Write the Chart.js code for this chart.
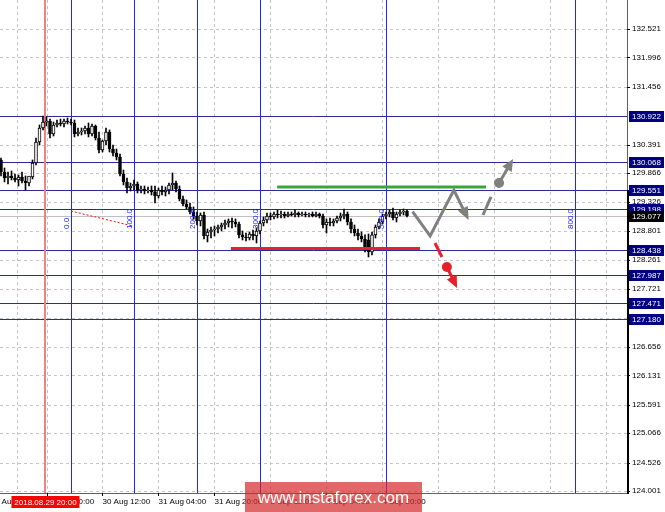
<!DOCTYPE html>
<html>
<head>
<meta charset="utf-8">
<script src="https://cdn.jsdelivr.net/npm/chart.js@4.4.1/dist/chart.umd.min.js"></script>
<style>
  html, body { margin: 0; padding: 0; background: #fff; }
  canvas { display: block; }
</style>
</head>
<body>
<canvas id="chart" width="665" height="512"></canvas>
<script>
// USDJPY H1 candles (bar 13 = 2018.08.29 20:00)
const openP = [130.106,129.884,129.774,129.811,129.774,129.737,129.792,129.718,129.681,129.792,
  130.050,130.438,130.696,130.806,130.825,130.585,130.751,130.788,130.769,130.825,
  130.806,130.788,130.585,130.622,130.640,130.696,130.585,130.733,130.511,130.290,
  130.456,130.622,130.308,130.235,130.161,129.847,129.700,129.589,129.626,129.663,
  129.552,129.571,129.534,129.552,129.516,129.442,129.552,129.516,129.552,129.645,
  129.681,129.571,129.386,129.294,129.239,129.147,129.073,128.981,129.091,128.704,
  128.778,128.815,128.833,128.870,128.907,128.944,128.981,128.962,128.925,128.723,
  128.686,128.667,128.741,128.704,128.796,128.944,128.999,129.073,129.055,129.110,
  129.091,129.110,129.073,129.110,129.091,129.128,129.091,129.110,129.091,129.110,
  129.073,129.110,129.073,128.907,128.962,128.944,128.981,129.036,129.073,129.110,
  128.962,128.833,128.759,128.704,128.649,128.630,128.409,128.723,128.870,128.962,
  129.073,129.110,129.147,129.036,129.110,129.147,129.165];
const highP = [130.142,129.958,129.884,129.903,129.847,129.829,129.884,129.811,129.774,130.106,
  130.511,130.751,130.917,130.899,130.862,130.806,130.843,130.862,130.862,130.880,
  130.862,130.843,130.696,130.696,130.733,130.788,130.769,130.751,130.622,130.474,
  130.696,130.659,130.382,130.308,130.216,129.921,129.774,129.681,129.737,129.700,
  129.626,129.626,129.608,129.626,129.626,129.589,129.626,129.608,129.681,129.866,
  129.718,129.626,129.442,129.368,129.313,129.239,129.147,129.128,129.147,128.833,
  128.870,128.889,128.907,128.944,128.999,129.018,129.036,129.018,128.962,128.796,
  128.759,128.778,128.815,128.852,128.981,129.055,129.128,129.128,129.147,129.184,
  129.165,129.147,129.147,129.147,129.184,129.147,129.147,129.147,129.128,129.147,
  129.147,129.128,129.110,129.018,129.036,129.018,129.073,129.128,129.202,129.147,
  129.018,128.907,128.833,128.778,128.723,128.741,128.778,128.907,129.018,129.110,
  129.147,129.184,129.220,129.147,129.184,129.202,129.184];
const lowP = [129.811,129.700,129.663,129.737,129.700,129.626,129.681,129.552,129.626,129.755,
  130.013,130.382,130.659,130.733,130.511,130.548,130.714,130.733,130.714,130.769,
  130.751,130.530,130.548,130.567,130.585,130.530,130.548,130.474,130.235,130.253,
  130.382,130.253,130.179,130.106,129.811,129.645,129.497,129.534,129.552,129.497,
  129.497,129.479,129.497,129.460,129.313,129.405,129.460,129.442,129.479,129.552,
  129.516,129.350,129.257,129.202,129.110,129.018,128.907,128.889,128.649,128.594,
  128.667,128.704,128.759,128.796,128.833,128.870,128.852,128.870,128.667,128.630,
  128.612,128.630,128.630,128.575,128.741,128.889,128.944,128.999,129.018,129.036,
  129.036,129.036,129.055,129.073,129.055,129.055,129.073,129.055,129.055,129.055,
  129.055,129.036,128.852,128.759,128.889,128.889,128.944,128.981,129.018,128.907,
  128.759,128.704,128.630,128.594,128.409,128.317,128.354,128.667,128.833,128.925,
  129.018,129.055,128.999,128.962,129.073,129.091,129.055];
const closeP = [129.884,129.774,129.811,129.774,129.737,129.792,129.718,129.681,129.811,130.050,
  130.438,130.696,130.806,130.825,130.585,130.751,130.788,130.769,130.825,130.806,
  130.788,130.585,130.622,130.640,130.696,130.585,130.733,130.511,130.290,130.456,
  130.622,130.308,130.235,130.161,129.847,129.700,129.589,129.626,129.663,129.552,
  129.571,129.534,129.552,129.516,129.442,129.552,129.516,129.552,129.645,129.681,
  129.571,129.386,129.294,129.239,129.147,129.073,128.981,129.091,128.704,128.778,
  128.815,128.833,128.870,128.907,128.944,128.981,128.962,128.925,128.723,128.686,
  128.667,128.741,128.704,128.796,128.944,128.999,129.073,129.055,129.110,129.091,
  129.110,129.073,129.110,129.091,129.128,129.091,129.110,129.091,129.110,129.073,
  129.110,129.073,128.907,128.962,128.944,128.981,129.036,129.073,129.110,128.962,
  128.833,128.759,128.704,128.649,128.446,128.409,128.723,128.870,128.962,129.073,
  129.110,129.147,129.036,129.110,129.147,129.165,129.077];

const priceTicks = [132.521,131.996,131.456,130.391,129.866,129.326,128.801,128.261,127.721,
  126.656,126.131,125.591,125.066,124.526,124.001];
const gridPrices = [132.521,131.996,131.456,130.922,130.391,129.866,129.326,128.801,128.261,127.721,
  127.186,126.656,126.131,125.591,125.066,124.526,124.001];
const timeBars = [-3, 13, 29, 45, 61, 77, 93, 109];
const timeLabels = ['29 Aug 04:00','29 Aug 20:00','30 Aug 12:00','31 Aug 04:00','31 Aug 20:00',
  '3 Sep 12:00','4 Sep 04:00','4 Sep 20:00'];
const gridBars = [4.7, 13, 29, 45, 61, 77, 93, 109, 125, 141, 157, 173];

const levels = [130.922, 130.068, 129.551, 129.198, 128.438, 127.987, 127.471, 127.180];
const lastPrice = 129.077;
const fibBars = [20, 38, 56, 74, 110, 164];
const fibLabels = ['0.0', '100.0', '200.0', '300.0', '500.0', '800.0'];
const fibBase = [[20, 129.165], [37.5, 128.889]];
const markBar = 12.7;
const markLabel = '2018.08.29 20:00';

const resistance = [[78.9, 138.6], 129.608];
const support = [[65.7, 119.7], 128.474];
const zigzag = [[117.6, 129.152], [122.6, 128.704], [129.4, 129.552], [133.6, 128.999]];
const upDash = [[137.7, 129.091], [140.0, 129.424]];
const upDot = [142.3, 129.681];
const upTip = [146.3, 130.124];
const downDash = [[124.0, 128.575], [126.0, 128.317]];
const downDot = [127.4, 128.133];
const downTip = [130.3, 127.745];

const bars = openP.map((_, i) => i);
const font = 'Liberation Sans';

function seg(ctx, x1, y1, x2, y2) {
  ctx.beginPath(); ctx.moveTo(x1, y1); ctx.lineTo(x2, y2); ctx.stroke();
}
function head(ctx, x0, y0, x1, y1, len, wid, color) {
  const a = Math.atan2(y1 - y0, x1 - x0);
  const bx = x1 - len * Math.cos(a), by = y1 - len * Math.sin(a);
  ctx.beginPath();
  ctx.moveTo(x1, y1);
  ctx.lineTo(bx + wid / 2 * Math.sin(a), by - wid / 2 * Math.cos(a));
  ctx.lineTo(bx - wid / 2 * Math.sin(a), by + wid / 2 * Math.cos(a));
  ctx.closePath();
  ctx.fillStyle = color; ctx.fill();
}

const overlay = {
  id: 'overlay',
  beforeDatasetsDraw(chart) {
    const { ctx, chartArea: a, scales: { x, y } } = chart;
    ctx.save();
    ctx.lineWidth = 1;
    ctx.strokeStyle = '#c4c4c4';
    ctx.setLineDash([3, 3]);
    gridBars.forEach(b => {
      const px = Math.round(x.getPixelForValue(b)) + 0.5;
      seg(ctx, px, a.top, px, a.bottom);
    });
    gridPrices.forEach(p => {
      const py = Math.round(y.getPixelForValue(p)) + 0.5;
      seg(ctx, a.left, py, a.right, py);
    });
    ctx.setLineDash([]);
    // current price
    ctx.strokeStyle = '#c0c0c0';
    let py = Math.round(y.getPixelForValue(lastPrice)) + 0.5;
    seg(ctx, a.left, py, a.right, py);
    // levels
    ctx.strokeStyle = '#2a2a9e';
    levels.forEach(p => {
      const q = Math.round(y.getPixelForValue(p)) + 0.5;
      seg(ctx, a.left, q, a.right, q);
    });
    // fibo time zones
    ctx.strokeStyle = '#2424ff';
    fibBars.forEach(b => {
      const px = Math.round(x.getPixelForValue(b)) + 0.5;
      seg(ctx, px, a.top, px, a.bottom);
    });
    ctx.strokeStyle = '#ff0000';
    ctx.setLineDash([2, 2]);
    seg(ctx, x.getPixelForValue(fibBase[0][0]), y.getPixelForValue(fibBase[0][1]),
      x.getPixelForValue(fibBase[1][0]), y.getPixelForValue(fibBase[1][1]));
    ctx.setLineDash([]);
    // time marker
    ctx.strokeStyle = '#f28080';
    ctx.lineWidth = 2;
    const mx = Math.round(x.getPixelForValue(markBar));
    seg(ctx, mx, a.top, mx, a.bottom);
    ctx.restore();
  },
  afterDatasetsDraw(chart) {
    const { ctx, scales: { x, y } } = chart;
    const P = (b, p) => [x.getPixelForValue(b), y.getPixelForValue(p)];
    ctx.save();
    // fib labels
    ctx.fillStyle = '#2020ff';
    ctx.font = '8px ' + font;
    fibBars.forEach((b, i) => {
      const px = Math.round(x.getPixelForValue(b));
      ctx.save();
      ctx.translate(px - 2, 229);
      ctx.rotate(-Math.PI / 2);
      ctx.textBaseline = 'alphabetic';
      ctx.fillText(fibLabels[i], 0, 0);
      ctx.restore();
    });
    ctx.lineCap = 'butt';
    ctx.lineWidth = 3;
    // resistance / support
    ctx.strokeStyle = '#36a93a';
    let py = y.getPixelForValue(resistance[1]);
    seg(ctx, x.getPixelForValue(resistance[0][0]), py, x.getPixelForValue(resistance[0][1]), py);
    ctx.strokeStyle = '#e8202a';
    py = y.getPixelForValue(support[1]);
    seg(ctx, x.getPixelForValue(support[0][0]), py, x.getPixelForValue(support[0][1]), py);
    // gray zigzag
    const gray = '#808080';
    ctx.strokeStyle = gray;
    ctx.lineJoin = 'miter';
    const z = zigzag.map(p => P(p[0], p[1]));
    const zl = z[z.length - 1], zp = z[z.length - 2];
    const za = Math.atan2(zl[1] - zp[1], zl[0] - zp[0]);
    ctx.beginPath();
    ctx.moveTo(z[0][0], z[0][1]);
    for (let i = 1; i < z.length - 1; i++) ctx.lineTo(z[i][0], z[i][1]);
    ctx.lineTo(zl[0] - 8 * Math.cos(za), zl[1] - 8 * Math.sin(za));
    ctx.stroke();
    head(ctx, zp[0], zp[1], zl[0], zl[1], 13, 11, gray);
    // bullish alternative
    let d0 = P(upDash[0][0], upDash[0][1]), d1 = P(upDash[1][0], upDash[1][1]);
    seg(ctx, d0[0], d0[1], d1[0], d1[1]);
    let c = P(upDot[0], upDot[1]), t = P(upTip[0], upTip[1]);
    ctx.fillStyle = gray;
    ctx.beginPath(); ctx.arc(c[0], c[1], 5, 0, Math.PI * 2); ctx.fill();
    let ang = Math.atan2(t[1] - c[1], t[0] - c[0]);
    seg(ctx, c[0], c[1], t[0] - 8 * Math.cos(ang), t[1] - 8 * Math.sin(ang));
    head(ctx, c[0], c[1], t[0], t[1], 12, 11, gray);
    // bearish alternative
    const red = '#e8202a';
    ctx.strokeStyle = red;
    d0 = P(downDash[0][0], downDash[0][1]); d1 = P(downDash[1][0], downDash[1][1]);
    seg(ctx, d0[0], d0[1], d1[0], d1[1]);
    c = P(downDot[0], downDot[1]); t = P(downTip[0], downTip[1]);
    ctx.fillStyle = red;
    ctx.beginPath(); ctx.arc(c[0], c[1], 5, 0, Math.PI * 2); ctx.fill();
    ang = Math.atan2(t[1] - c[1], t[0] - c[0]);
    seg(ctx, c[0], c[1], t[0] - 8 * Math.cos(ang), t[1] - 8 * Math.sin(ang));
    head(ctx, c[0], c[1], t[0], t[1], 12, 11, red);
    ctx.restore();
  },
  afterDraw(chart) {
    const { ctx, chartArea: a, scales: { x, y } } = chart;
    ctx.save();
    // axis frame: thin above the resistance level, heavy below it
    const split = Math.round(y.getPixelForValue(levels[2]));
    ctx.strokeStyle = '#606060';
    ctx.lineWidth = 1;
    seg(ctx, a.right + 0.5, a.top, a.right + 0.5, split);
    seg(ctx, a.left, a.bottom + 0.5, a.right + 1, a.bottom + 0.5);
    ctx.strokeStyle = '#000';
    ctx.lineWidth = 2;
    seg(ctx, a.right + 1, split, a.right + 1, a.bottom + 1);
    ctx.lineWidth = 1;
    // tick marks
    priceTicks.forEach(p => {
      const q = Math.round(y.getPixelForValue(p)) + 0.5;
      seg(ctx, a.right, q, a.right + 3, q);
    });
    timeBars.forEach(b => {
      const px = Math.round(x.getPixelForValue(b)) + 0.5;
      seg(ctx, px, a.bottom, px, a.bottom + 3);
    });
    // level price boxes
    ctx.font = '8px ' + font;
    ctx.textBaseline = 'middle';
    levels.concat([lastPrice]).forEach((p, i) => {
      const q = Math.round(y.getPixelForValue(p));
      ctx.fillStyle = i === levels.length ? '#000' : '#000080';
      ctx.fillRect(a.right + 2, q - 5, 35, 11);
      ctx.fillStyle = '#fff';
      ctx.fillText(p.toFixed(3), a.right + 5, q + 0.5);
    });
    // time marker label
    const mx = x.getPixelForValue(markBar);
    ctx.fillStyle = '#ff0000';
    ctx.fillRect(mx - 34, a.bottom + 3, 68, 12);
    ctx.fillStyle = '#fff';
    ctx.textAlign = 'center';
    ctx.fillText(markLabel, mx, a.bottom + 9.5);
    // watermark
    ctx.fillStyle = 'rgba(212, 40, 40, 0.7)';
    ctx.fillRect(245, 482, 177, 30);
    ctx.fillStyle = '#fff';
    ctx.font = '17px ' + font;
    ctx.fillText('www.instaforex.com', 333.5, 498);
    ctx.restore();
  }
};

new Chart(document.getElementById('chart'), {
  type: 'bar',
  data: {
    datasets: [
      {
        label: 'wick',
        data: bars.map(i => ({ x: i, y: [lowP[i], highP[i]] })),
        backgroundColor: '#000',
        barThickness: 1,
        grouped: false,
        order: 2
      },
      {
        label: 'body',
        data: bars.map(i => ({ x: i, y: [openP[i], closeP[i]] })),
        backgroundColor: bars.map(i => closeP[i] >= openP[i] ? '#fff' : '#000'),
        borderColor: '#000',
        borderWidth: 1,
        borderSkipped: false,
        barThickness: 3,
        minBarLength: 1,
        grouped: false,
        order: 1
      }
    ]
  },
  options: {
    responsive: false,
    animation: false,
    devicePixelRatio: 1,
    layout: { padding: 0 },
    plugins: { legend: { display: false }, tooltip: { enabled: false } },
    scales: {
      x: {
        type: 'linear',
        position: 'bottom',
        offset: false,
        min: -0.286,
        max: 178.86,
        afterBuildTicks: s => { s.ticks = timeBars.map(v => ({ value: v })); },
        afterFit: s => { s.height = 19; s.paddingLeft = 0; s.paddingRight = 0; },
        grid: { display: false, drawTicks: false, offset: false },
        border: { display: false },
        ticks: {
          autoSkip: false,
          maxRotation: 0,
          align: 'start',
          padding: 4,
          color: '#000',
          font: { family: font, size: 8 },
          callback: (v, i) => timeLabels[i]
        }
      },
      y: {
        position: 'right',
        min: 123.964,
        max: 133.056,
        afterBuildTicks: s => { s.ticks = priceTicks.map(v => ({ value: v })); },
        afterFit: s => { s.width = 38; s.paddingTop = 0; s.paddingBottom = 0; },
        grid: { display: false, drawTicks: false },
        border: { display: false },
        ticks: {
          padding: 5,
          color: '#000',
          font: { family: font, size: 8 },
          callback: v => v.toFixed(3)
        }
      }
    }
  },
  plugins: [overlay]
});
</script>
</body>
</html>
